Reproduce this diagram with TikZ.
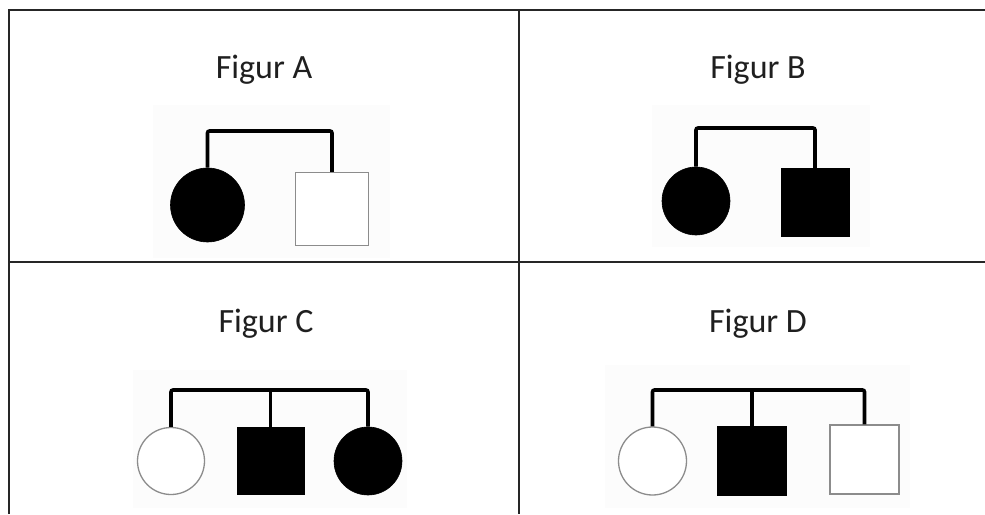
\documentclass[tikz,border=0pt]{standalone}
\usepackage{fontspec}
\setmainfont{Carlito}
\begin{document}
\begin{tikzpicture}[x=1pt,y=-1pt,
  grid/.style={draw=black!85, line width=1.6pt},
  title/.style={font=\fontsize{34}{40}\selectfont, text=black!88, inner sep=0pt, anchor=base},
  panelbg/.style={fill=black!1.2, draw=none},
  conn/.style={draw=black, line width=3.6pt, rounded corners=2pt},
  fcircle/.style={circle, inner sep=0pt, fill=black, draw=black, line width=0.6pt},
  ocircle/.style={circle, inner sep=0pt, fill=white, draw=black!45, line width=1.3pt},
  fsquare/.style={rectangle, inner sep=0pt, fill=black, draw=black, line width=0.6pt},
  osquare/.style={rectangle, inner sep=0pt, fill=white, draw=black!45, line width=1.3pt}
]
\useasboundingbox (0,0) rectangle (985,514);
\fill[white] (0,0) rectangle (985,514);

% table grid
\draw[grid] (9,514) -- (9,10) -- (985,10);
\draw[grid] (519,10) -- (519,514);
\draw[grid] (9,262) -- (985,262);

% faint image backgrounds
\fill[panelbg] (153,105) rectangle (390,258);
\fill[panelbg] (652,105) rectangle (870,247);
\fill[panelbg] (133,370) rectangle (407,508);
\fill[panelbg] (605,365) rectangle (910,508);

% titles
\node[title] (tA) at (264,78) {Figur A};
\node[title] (tB) at (758,78) {Figur B};
\node[title] (tC) at (266,332) {Figur C};
\node[title] (tD) at (758,332) {Figur D};

% Figure A
\node[fcircle, minimum size=74pt] (a1) at (207.5,205) {};
\node[osquare, minimum size=73pt] (a2) at (332,209) {};
\coordinate (barA) at (270,131);
\draw[conn] (a1.north) -- (a1.north |- barA) -| (a2.north);

% Figure B
\node[fcircle, minimum size=68pt] (b1) at (696,201) {};
\node[fsquare, minimum size=68pt] (b2) at (815,202.5) {};
\coordinate (barB) at (755,128);
\draw[conn] (b1.north) -- (b1.north |- barB) -| (b2.north);

% Figure C
\node[ocircle, minimum size=67pt] (c1) at (171,461) {};
\node[fsquare, minimum size=67pt] (c2) at (270.5,461) {};
\node[fcircle, minimum size=68pt] (c3) at (368,461) {};
\coordinate (barC) at (270,390);
\draw[conn] (c1.north) -- (c1.north |- barC) -| (c3.north);
\draw[conn] (c2.north) -- (c2.north |- barC);

% Figure D
\node[ocircle, minimum size=68pt] (d1) at (652.5,461) {};
\node[fsquare, minimum size=69pt] (d2) at (752,460.5) {};
\node[osquare, minimum size=69pt] (d3) at (864.5,459.5) {};
\coordinate (barD) at (758,390);
\draw[conn] (d1.north) -- (d1.north |- barD) -| (d3.north);
\draw[conn] (d2.north) -- (d2.north |- barD);
\end{tikzpicture}
\end{document}
